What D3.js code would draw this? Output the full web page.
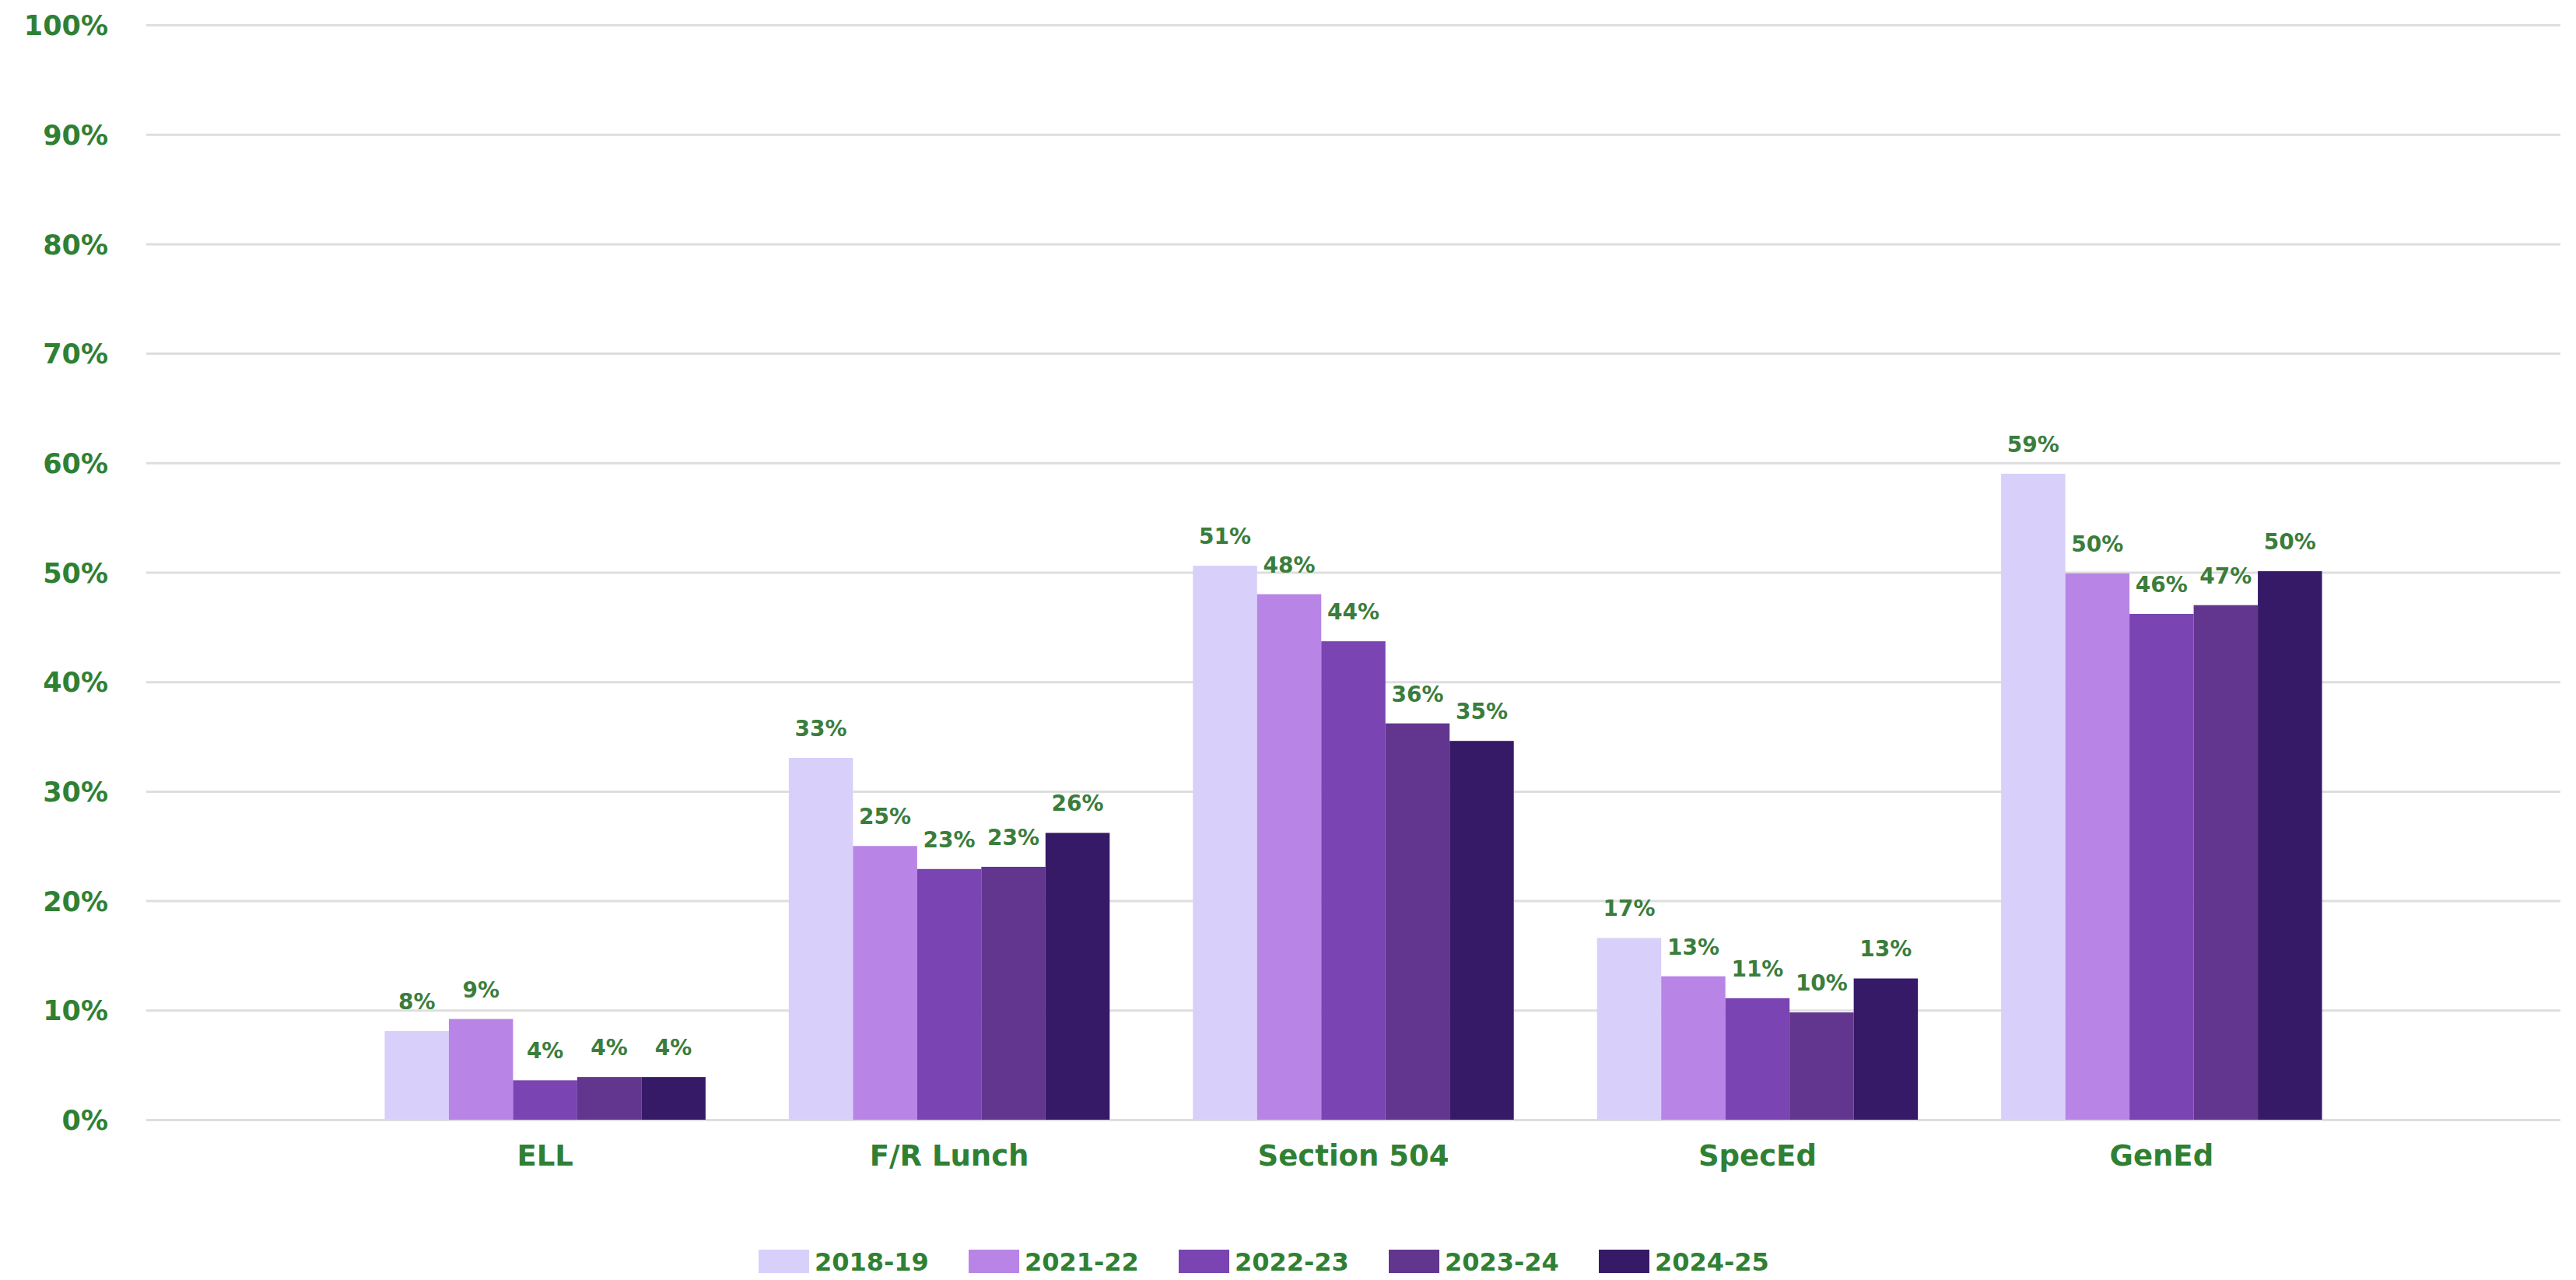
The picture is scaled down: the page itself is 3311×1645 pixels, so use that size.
<!DOCTYPE html>
<html>
<head>
<meta charset="utf-8">
<script src="https://cdn.jsdelivr.net/npm/d3@7/dist/d3.min.js"></script>
<style>
  html, body { margin: 0; padding: 0; background: #ffffff; }
  svg { display: block; }
  text { font-family: "DejaVu Sans", Verdana, sans-serif; font-weight: bold; }
</style>
</head>
<body>
<svg id="chart" width="3311" height="1645"></svg>
<script>
// Student groups along the x axis
const categories = ["ELL", "F/R Lunch", "Section 504", "SpecEd", "GenEd"];

// School years (one bar per year inside each group)
const years = ["2018-19", "2021-22", "2022-23", "2023-24", "2024-25"];

// Percent of students in each group, per year
const values2018_19 = [8.1, 33.05, 50.6, 16.6, 59.0];
const values2021_22 = [9.2, 25.0, 48.0, 13.1, 49.9];
const values2022_23 = [3.6, 22.9, 43.7, 11.1, 46.2];
const values2023_24 = [3.9, 23.1, 36.2, 9.8, 47.0];
const values2024_25 = [3.9, 26.2, 34.6, 12.9, 50.1];

// Y axis ticks
const yTicks = [0, 10, 20, 30, 40, 50, 60, 70, 80, 90, 100];

const seriesValues = [values2018_19, values2021_22, values2022_23, values2023_24, values2024_25];
const colors = ["#d8d0fa", "#b884e6", "#7a44b2", "#62368e", "#371a67"];
const textGreen = "#2f8033";
const labelGreen = "#3a7d3c";

const svg = d3.select("#chart");

const plotLeft = 188, plotRight = 3291;
const plotTop = 32, plotBottom = 1439;

const x = d3.scaleBand()
  .domain(categories)
  .range([plotLeft, plotRight])
  .paddingInner(0.206)
  .paddingOuter(0.59)
  .align(0.5);

const xInner = d3.scaleBand()
  .domain(years)
  .range([0, x.bandwidth()])
  .padding(0);

const y = d3.scaleLinear()
  .domain([0, 100])
  .range([plotBottom, plotTop]);

const color = d3.scaleOrdinal().domain(years).range(colors);

// Horizontal gridlines and y tick labels
const yAxis = d3.axisLeft(y)
  .tickValues(yTicks)
  .tickSize(-(plotRight - plotLeft))
  .tickPadding(49)
  .tickFormat(d => d + "%");

const gY = svg.append("g")
  .attr("transform", `translate(${plotLeft},0)`)
  .call(yAxis);
gY.select(".domain").remove();
gY.selectAll(".tick line")
  .attr("stroke", "#dedede")
  .attr("stroke-width", 3);
gY.selectAll(".tick text")
  .attr("fill", textGreen)
  .style("font-size", "35px")
  .attr("dy", "0.36em");

// Bars
const rows = categories.map((c, i) => ({
  category: c,
  items: years.map((yr, j) => ({ year: yr, value: seriesValues[j][i] }))
}));

const groups = svg.append("g")
  .selectAll("g")
  .data(rows)
  .join("g")
  .attr("transform", d => `translate(${x(d.category)},0)`);

groups.selectAll("rect")
  .data(d => d.items)
  .join("rect")
  .attr("x", d => xInner(d.year))
  .attr("y", d => y(d.value))
  .attr("width", xInner.bandwidth())
  .attr("height", d => y(0) - y(d.value))
  .attr("fill", d => color(d.year));

// Value labels above each bar
groups.selectAll("text.value")
  .data(d => d.items)
  .join("text")
  .attr("class", "value")
  .attr("x", d => xInner(d.year) + xInner.bandwidth() / 2)
  .attr("y", d => y(d.value) - 28)
  .attr("text-anchor", "middle")
  .attr("fill", labelGreen)
  .style("font-size", "28px")
  .text(d => Math.round(d.value) + "%");

// Category labels
const xAxis = d3.axisBottom(x).tickSize(0).tickPadding(33);
const gX = svg.append("g")
  .attr("transform", `translate(0,${plotBottom})`)
  .call(xAxis);
gX.select(".domain").remove();
gX.selectAll(".tick text")
  .attr("fill", textGreen)
  .style("font-size", "37px")
  .attr("dy", "0.71em");

// Legend
const legendX = 975, legendY = 1606, itemStep = 270;
const legend = svg.append("g")
  .selectAll("g")
  .data(years)
  .join("g")
  .attr("transform", (d, i) => `translate(${legendX + i * itemStep},${legendY})`);

legend.append("rect")
  .attr("width", 65)
  .attr("height", 30)
  .attr("fill", d => color(d));

legend.append("text")
  .attr("x", 72)
  .attr("y", 27)
  .attr("fill", textGreen)
  .style("font-size", "32px")
  .text(d => d);
</script>
</body>
</html>
